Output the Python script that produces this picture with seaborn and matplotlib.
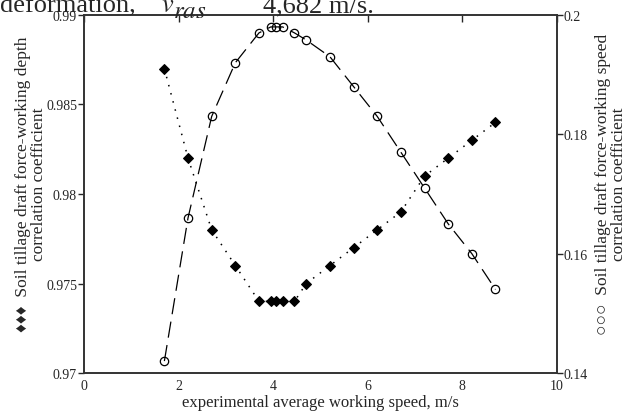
import seaborn as sns
import pandas as pd
import matplotlib.pyplot as plt
from matplotlib.ticker import FuncFormatter

# experimental average working speed, m/s
speed = [1.7, 2.2, 2.7, 3.2, 3.7, 3.95, 4.05, 4.2, 4.45, 4.7, 5.2, 5.7, 6.2, 6.7, 7.2, 7.7, 8.2, 8.7]
# draft force - working depth correlation coefficient (left axis)
r_depth = [0.987, 0.982, 0.978, 0.976, 0.974, 0.974, 0.974, 0.974, 0.974, 0.975,
           0.976, 0.977, 0.978, 0.979, 0.981, 0.982, 0.983, 0.984]
# draft force - working speed correlation coefficient (right axis)
r_speed = [0.142, 0.166, 0.183, 0.192, 0.197, 0.198, 0.198, 0.198, 0.197, 0.1958,
           0.193, 0.188, 0.183, 0.177, 0.171, 0.165, 0.160, 0.154]

x_ticks = [0, 2, 4, 6, 8, 10]
left_ticks = [0.97, 0.975, 0.98, 0.985, 0.99]
right_ticks = [0.14, 0.16, 0.18, 0.2]

df = pd.DataFrame({'speed': speed, 'r_depth': r_depth, 'r_speed': r_speed})

sns.set_style('white')
plt.rcParams['font.family'] = ['Liberation Serif', 'DejaVu Sans']
plt.rcParams['mathtext.fontset'] = 'stix'

fig = plt.figure(figsize=(6.29, 4.14), dpi=100)
ax = fig.add_axes([0.1335, 0.0966, 0.752, 0.8648])
ax2 = ax.twinx()

# left series: filled diamonds, dotted line
sns.lineplot(data=df, x='speed', y='r_depth', ax=ax, color='black', lw=1.1,
             marker='D', markersize=5.5, markeredgecolor='black', markerfacecolor='black',
             dashes=False, sort=False)
ax.lines[-1].set_dashes((1, 4.5))

# right series: open circles, long dashes
sns.lineplot(data=df, x='speed', y='r_speed', ax=ax2, color='black', lw=0.9,
             marker='o', markersize=6, markeredgecolor='black', markerfacecolor='none',
             markeredgewidth=0.9, sort=False)
ax2.lines[-1].set_dashes((13, 6))

ax.set_xlim(0, 10)
ax.set_ylim(0.97, 0.99)
ax2.set_ylim(0.14, 0.2)
ax.set_xticks(x_ticks)
ax.set_yticks(left_ticks)
ax2.set_yticks(right_ticks)
fmt = FuncFormatter(lambda v, p: '%g' % round(v, 4))
ax.yaxis.set_major_formatter(fmt)
ax2.yaxis.set_major_formatter(fmt)

ax.tick_params(axis='x', direction='in', top=True, length=5, width=1, labelsize=10, pad=4)
ax.tick_params(axis='y', direction='out', length=4, width=1, labelsize=10, pad=1)
ax2.tick_params(axis='y', direction='out', length=4, width=1, labelsize=10, pad=1)

for a in (ax, ax2):
    for s in a.spines.values():
        s.set_color('#333333')
        s.set_linewidth(1.2)

ax.set_xlabel('experimental average working speed, m/s', fontsize=12, labelpad=2)
ax.set_ylabel('\u2666\u2666\u2666  Soil tillage draft force-working depth\ncorrelation coefficient',
              fontsize=12.5, linespacing=1.0)
ax2.set_ylabel('\u25cb\u25cb\u25cb  Soil tillage draft force-working speed\ncorrelation coefficient',
               fontsize=12.5, linespacing=1.0, rotation=90)
ax.yaxis.set_label_coords(-0.078, 0.53)
ax2.yaxis.set_label_coords(1.08, 0.53)

# body text of the page, cut off at the top
base = 1 - 12 / 414
fig.text(0.0, base, 'deformation,', fontsize=19, va='baseline', ha='left')
fig.text(161 / 629, base, '$v$', fontsize=19, va='baseline', ha='left')
fig.text(173 / 629, 1 - 18 / 414, '$ras$', fontsize=18, va='baseline', ha='left')
fig.text(238 / 629, 1 - 3 / 414, '=', fontsize=19, va='baseline', ha='left')
fig.text(263 / 629, base, '4,682 m/s.', fontsize=19, va='baseline', ha='left')

fig.savefig('out.png', dpi=100)
